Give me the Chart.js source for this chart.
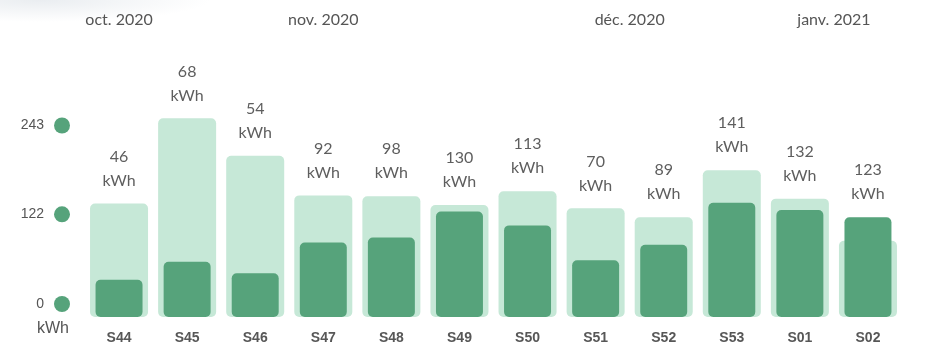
<!DOCTYPE html>
<html>
<head>
<meta charset="utf-8">
<script src="https://cdn.jsdelivr.net/npm/chart.js@4"></script>
<style>
  html, body { margin: 0; padding: 0; width: 933px; height: 356px; overflow: hidden;
    background: #ffffff; }
  #bg { position: absolute; left: 0; top: 0; width: 933px; height: 356px;
    background: radial-gradient(ellipse 170px 22px at 40px 0px, rgba(230,234,238,0.85), rgba(255,255,255,0) 100%); }
  canvas { position: absolute; left: 0; top: 0; }
</style>
</head>
<body>
<div id="bg"></div>
<canvas id="c" width="933" height="356"></canvas>
<script>
// ---- data ----
const weeks = ['S44','S45','S46','S47','S48','S49','S50','S51','S52','S53','S01','S02'];
const consumption = [46, 68, 54, 92, 98, 130, 113, 70, 89, 141, 132, 123];
const reference = [140, 245, 199, 150, 149, 138, 155, 134, 123, 181, 146, 94];
const axisTicks = [0, 122, 243];
const axisUnit = 'kWh';
const months = ['oct. 2020', 'nov. 2020', 'déc. 2020', 'janv. 2021'];
const monthPositions = [0, 3, 7.5, 10.5];

const DARK = '#56a37b';
const LIGHT = '#c6e8d7';

const labelsPlugin = {
  id: 'customLabels',
  afterDatasetsDraw(chart) {
    const ctx = chart.ctx;
    const x = chart.scales.x, y = chart.scales.y, yk = chart.scales.yk;
    ctx.save();
    // value labels above bars
    ctx.textAlign = 'center';
    ctx.textBaseline = 'middle';
    ctx.fillStyle = '#5e5e5e';
    ctx.font = '16px Lato';
    weeks.forEach((w, i) => {
      const cx = x.getPixelForValue(i);
      const top = Math.min(y.getPixelForValue(consumption[i]), y.getPixelForValue(reference[i]));
      ctx.fillText(String(consumption[i]), cx, top - 47);
      ctx.fillText(axisUnit, cx, top - 23);
    });
    // week labels
    ctx.fillStyle = '#575757';
    ctx.font = 'bold 14px "Liberation Sans", Arial, sans-serif';
    weeks.forEach((w, i) => {
      ctx.fillText(w, x.getPixelForValue(i), 338);
    });
    // month labels
    ctx.fillStyle = '#555555';
    ctx.font = '16px Lato';
    months.forEach((m, i) => {
      ctx.fillText(m, x.getPixelForValue(monthPositions[i]), 20);
    });
    // left axis dots and ticks
    axisTicks.forEach(t => {
      const py = yk.getPixelForValue(t);
      ctx.fillStyle = DARK;
      ctx.beginPath();
      ctx.arc(62, py, 8, 0, Math.PI * 2);
      ctx.fill();
      ctx.fillStyle = '#555555';
      ctx.font = '14px "Liberation Sans", Arial, sans-serif';
      ctx.textAlign = 'right';
      ctx.fillText(String(t), 44, py);
    });
    ctx.textAlign = 'center';
    ctx.font = '16px "Liberation Sans", Arial, sans-serif';
    ctx.fillText(axisUnit, 53, 329);
    ctx.restore();
  }
};

new Chart(document.getElementById('c'), {
  type: 'bar',
  data: {
    labels: weeks,
    datasets: [
      {
        label: 'Consommation',
        data: consumption,
        backgroundColor: DARK,
        borderRadius: 5,
        borderSkipped: false,
        barPercentage: 0.69,
        categoryPercentage: 1,
        grouped: false,
        order: 0
      },
      {
        label: 'Référence',
        data: reference,
        backgroundColor: LIGHT,
        borderRadius: 5,
        borderSkipped: false,
        barPercentage: 0.852,
        categoryPercentage: 1,
        grouped: false,
        order: 1
      }
    ]
  },
  options: {
    responsive: false,
    animation: false,
    devicePixelRatio: 1,
    layout: { padding: { left: 85, right: 31, top: 0, bottom: 39 } },
    plugins: { legend: { display: false }, tooltip: { enabled: false } },
    scales: {
      x: { display: false },
      y: { display: false, min: 0, max: 391 },
      yk: { display: false, type: 'linear', min: -17.7, max: 413.8 }
    }
  },
  plugins: [labelsPlugin]
});
</script>
</body>
</html>
